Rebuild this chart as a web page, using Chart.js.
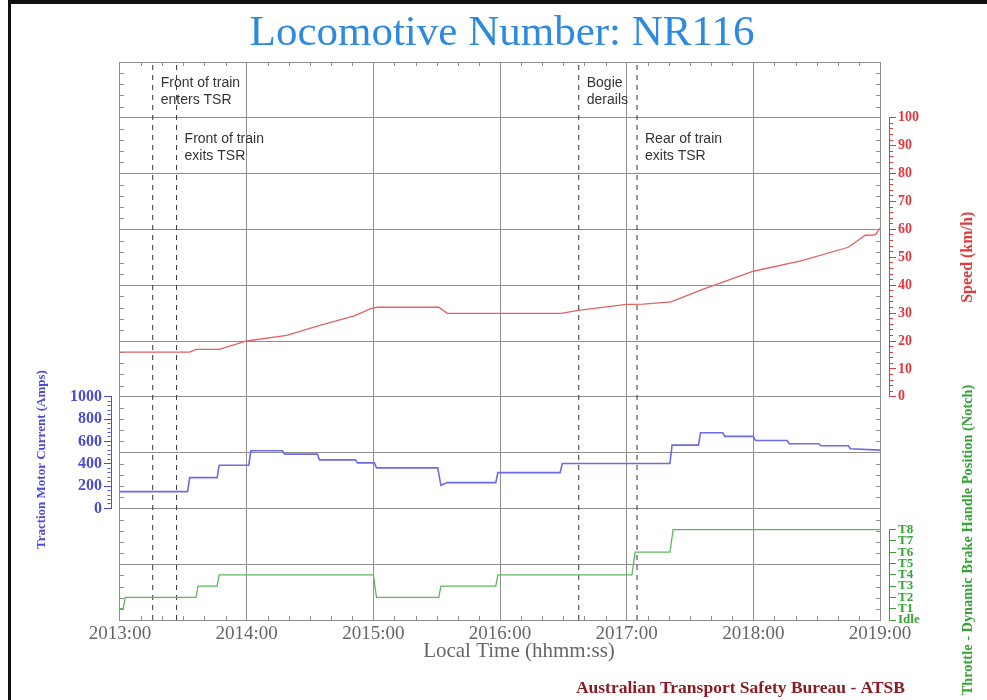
<!DOCTYPE html>
<html>
<head>
<meta charset="utf-8">
<title>Locomotive Number: NR116</title>
<script src="https://cdn.jsdelivr.net/npm/chart.js@4.4.1/dist/chart.umd.min.js"></script>
<style>
    html, body { margin: 0; padding: 0; background: #fff; }
    #wrap { position: relative; width: 987px; height: 700px; }
    #frame { position: absolute; left: 8px; top: 0; right: 0; bottom: 0;
             border-top: 4px solid #111; border-left: 3px solid #111; pointer-events: none; }
</style>
</head>
<body>
<div id="wrap">
    <canvas id="chart" width="987" height="700"></canvas>
    <div id="frame"></div>
</div>
<script>
// time axis is seconds after 20:13:00
const timeTicks = [0, 60, 120, 180, 240, 300, 360];
const timeLabels = ['2013:00', '2014:00', '2015:00', '2016:00', '2017:00', '2018:00', '2019:00'];

const speedTime = [0, 33, 36, 47, 60, 79, 95, 111, 119, 122, 151, 155, 209, 217, 240, 248, 261, 276, 300, 323, 345, 353, 357, 358, 360];
const speedKmh  = [16, 16, 17, 17, 20, 22, 25.7, 29, 31.7, 32.1, 32.1, 29.9, 29.9, 31, 33.1, 33.2, 34, 38.5, 45, 48.8, 53.6, 57.9, 58, 58.2, 60.5];

const currentTime = [0, 32, 33, 46, 47, 61, 62, 77, 78, 93.5, 94.5, 111.5, 112.5, 120.5, 121.5, 150.5, 152, 155, 178, 179, 208.5, 209.5, 260.5, 261.5, 274, 275, 285.5, 286.5, 300, 301, 316, 317, 331, 332, 345, 346, 360];
const currentAmps = [150, 150, 276, 276, 387, 387, 516, 516, 486, 486, 435, 435, 408, 408, 363, 363, 207, 231, 231, 321, 321, 402, 402, 567, 567, 678, 678, 645, 645, 609, 609, 579, 579, 561, 561, 534, 522];

const notchTime = [0, 1.5, 2.5, 36, 37, 46, 47, 120, 121.5, 151, 152, 178, 179, 242.5, 244, 260.5, 262, 360];
const notchPos  = [1, 1, 2, 2, 3, 3, 4, 4, 2, 2, 3, 3, 4, 4, 6, 6, 8, 8];
const notchLabels = ['Idle', 'T1', 'T2', 'T3', 'T4', 'T5', 'T6', 'T7', 'T8'];

const speedLabels = [0, 10, 20, 30, 40, 50, 60, 70, 80, 90, 100];
const currentLabels = [0, 200, 400, 600, 800, 1000];

const eventTime = [15.5, 26.8, 217.3, 244.9];
const eventText = [
    ['Front of train', 'enters TSR'],
    ['Front of train', 'exits TSR'],
    ['Bogie', 'derails'],
    ['Rear of train', 'exits TSR']
];

const chartTitle = 'Locomotive Number: NR116';
const xTitle = 'Local Time (hhmm:ss)';
const currentTitle = 'Traction Motor Current (Amps)';
const speedTitle = 'Speed (km/h)';
const notchTitle = 'Throttle - Dynamic Brake Handle Position (Notch)';
const footerText = 'Australian Transport Safety Bureau - ATSB';

const SERIF = "'Liberation Serif', 'Times New Roman', serif";
const SANS = "'Liberation Sans', Arial, sans-serif";
const GRID = '#8e8e8e';
const BLUE_LINE = '#6c6ce4', BLUE_AXIS = '#4b4bd6';
const RED_LINE = '#e36262', RED_AXIS = '#e0393e';
const GREEN_LINE = '#5cb85c', GREEN_AXIS = '#36a336';

function pts(xs, ys) {
    return xs.map((x, i) => ({ x, y: ys[i] }));
}

function stepTicks(max, step) {
    const out = [];
    for (let v = 0; v <= max + 1e-9; v += step) out.push({ value: Math.round(v * 1000) / 1000 });
    return out;
}

// small inward ticks round the plot frame
const frameTicks = {
    id: 'frameTicks',
    beforeDatasetsDraw(chart) {
        const { ctx, chartArea: a, scales } = chart;
        ctx.save();
        ctx.strokeStyle = GRID;
        ctx.lineWidth = 1;
        ctx.beginPath();
        for (let t = 10; t < 360; t += 10) {
            if (t % 60 === 0) continue;
            const x = Math.round(scales.x.getPixelForValue(t)) + 0.5;
            ctx.moveTo(x, a.bottom); ctx.lineTo(x, a.bottom - 4);
            ctx.moveTo(x, a.top); ctx.lineTo(x, a.top + 4);
        }
        for (let k = 1; k < 50; k++) {
            if (k % 5 === 0) continue;
            const y = Math.round(scales.yg.getPixelForValue(k / 5)) + 0.5;
            ctx.moveTo(a.left, y); ctx.lineTo(a.left + 4, y);
            ctx.moveTo(a.right, y); ctx.lineTo(a.right - 4, y);
        }
        ctx.stroke();
        ctx.restore();
    }
};

// event notes beside the dashed lines
const eventNotes = {
    id: 'eventNotes',
    afterDatasetsDraw(chart) {
        const { ctx, chartArea: a, scales } = chart;
        ctx.save();
        ctx.font = '14px ' + SANS;
        ctx.fillStyle = '#333';
        ctx.textAlign = 'left';
        ctx.textBaseline = 'middle';
        eventText.forEach((lines, i) => {
            const x = scales.x.getPixelForValue(eventTime[i]) + 8;
            const y0 = a.top + 21 + (i % 2) * 56;
            lines.forEach((txt, j) => ctx.fillText(txt, x, y0 + j * 17));
        });
        ctx.restore();
    }
};

// axis titles (right ones read bottom to top) and footer
const axisTitles = {
    id: 'axisTitles',
    afterDraw(chart) {
        const { ctx, chartArea: a, scales } = chart;
        const vtext = (txt, x, y, color, size) => {
            ctx.save();
            ctx.translate(x, y);
            ctx.rotate(-Math.PI / 2);
            ctx.font = 'bold ' + size + 'px ' + SERIF;
            ctx.fillStyle = color;
            ctx.fillText(txt, 0, 0);
            ctx.restore();
        };
        ctx.save();
        ctx.textAlign = 'center';
        ctx.textBaseline = 'middle';
        vtext(currentTitle, 42, (scales.yCur.top + scales.yCur.bottom) / 2 + 7, BLUE_AXIS, 13);
        vtext(speedTitle, 968, (scales.ySpeed.top + scales.ySpeed.bottom) / 2, RED_AXIS, 16);
        vtext(notchTitle, 968, a.bottom - 80, GREEN_AXIS, 14.4);

        ctx.font = '21px ' + SERIF;
        ctx.fillStyle = '#666';
        ctx.fillText(xTitle, (a.left + a.right) / 2 + 19, a.bottom + 31);

        ctx.font = 'bold 17.5px ' + SERIF;
        ctx.fillStyle = '#8b1c24';
        ctx.textAlign = 'right';
        ctx.fillText(footerText, 905, 688);
        ctx.restore();
    }
};

const datasets = [
    { label: 'Speed', data: pts(speedTime, speedKmh), yAxisID: 'ySpeed', borderColor: RED_LINE, borderWidth: 1.3 },
    { label: 'Current', data: pts(currentTime, currentAmps), yAxisID: 'yCur', borderColor: BLUE_LINE, borderWidth: 1.6 },
    { label: 'Throttle', data: pts(notchTime, notchPos), yAxisID: 'yThr', borderColor: GREEN_LINE, borderWidth: 1.3 }
];
eventTime.forEach((t, i) => {
    datasets.push({
        label: 'event' + i, data: [{ x: t, y: 0 }, { x: t, y: 10 }], yAxisID: 'yg',
        borderColor: '#333', borderWidth: 1, borderDash: [5, 5]
    });
});

const hidden = (pos, stack, stackWeight, weight) =>
    ({ type: 'linear', display: false, position: pos, stack, stackWeight, weight });

new Chart(document.getElementById('chart'), {
    type: 'line',
    data: { datasets },
    options: {
        responsive: false,
        animation: false,
        events: [],
        layout: { padding: { left: 17, right: 0, top: 0, bottom: 34 } },
        elements: {
            point: { radius: 0 },
            line: { tension: 0, fill: false }
        },
        datasets: { line: { clip: false } },
        plugins: {
            legend: { display: false },
            tooltip: { enabled: false },
            title: {
                display: true, text: chartTitle, color: '#2e8ae0',
                font: { family: SERIF, size: 43, weight: 'normal' },
                padding: { top: 8, bottom: 2.4 }
            }
        },
        scales: {
            x: {
                type: 'linear', position: 'bottom', min: 0, max: 360,
                afterBuildTicks: s => { s.ticks = timeTicks.map(v => ({ value: v })); },
                ticks: {
                    autoSkip: false, maxRotation: 0, padding: 3, color: '#666',
                    font: { family: SERIF, size: 19 },
                    callback: (v, i) => timeLabels[i]
                },
                grid: { color: GRID, drawTicks: false },
                border: { color: GRID },
                afterFit: s => { s.height = 46; }
            },
            yg: {
                type: 'linear', position: 'left', min: 0, max: 10, weight: 0,
                ticks: { display: false, stepSize: 1 },
                grid: { color: GRID, drawTicks: false },
                border: { display: false },
                afterFit: s => { s.width = 0; }
            },
            lTop: hidden('left', 'left', 6, 3),
            yCur: {
                type: 'linear', position: 'left', stack: 'left', stackWeight: 2, weight: 2,
                min: 0, max: 1000,
                afterBuildTicks: s => { s.ticks = stepTicks(1000, 40); },
                ticks: {
                    autoSkip: false, padding: 2, color: BLUE_AXIS,
                    font: { family: SERIF, size: 16, weight: 'bold' },
                    callback: v => currentLabels.includes(v) ? String(v) : ''
                },
                grid: {
                    drawOnChartArea: false, tickLength: 7, tickColor: BLUE_AXIS, tickWidth: 1,
                    tickBorderDash: c => (c.tick && !currentLabels.includes(c.tick.value)) ? [0, 3.5, 3, 20] : []
                },
                border: { color: BLUE_AXIS, width: 1 },
                afterFit: s => { s.width = 94; }
            },
            lBottom: hidden('left', 'left', 2, 1),
            lGap: { type: 'linear', display: false, position: 'left', weight: 0.5, afterFit: s => { s.width = 9; } },
            rGap: { type: 'linear', display: false, position: 'right', weight: 0, afterFit: s => { s.width = 9; } },
            rTop: hidden('right', 'right', 1, 1),
            ySpeed: {
                type: 'linear', position: 'right', stack: 'right', stackWeight: 5, weight: 2,
                min: 0, max: 100,
                afterBuildTicks: s => { s.ticks = stepTicks(100, 2); },
                ticks: {
                    autoSkip: false, padding: 2, color: RED_AXIS,
                    font: { family: SERIF, size: 14, weight: 'bold' },
                    callback: v => speedLabels.includes(v) ? String(v) : ''
                },
                grid: {
                    drawOnChartArea: false, tickLength: 7, tickColor: RED_AXIS, tickWidth: 1,
                    tickBorderDash: c => (c.tick && !speedLabels.includes(c.tick.value)) ? [3, 20] : []
                },
                border: { color: RED_AXIS, width: 1 },
                afterFit: s => { s.width = 98; }
            },
            rMid: hidden('right', 'right', 2.38, 3),
            yThr: {
                type: 'linear', position: 'right', stack: 'right', stackWeight: 1.62, weight: 4,
                min: 0, max: 8,
                afterBuildTicks: s => { s.ticks = notchLabels.map((_, i) => ({ value: i })); },
                ticks: {
                    autoSkip: false, padding: 2, color: GREEN_AXIS,
                    font: { family: SERIF, size: 13, weight: 'bold' },
                    callback: v => notchLabels[v]
                },
                grid: { drawOnChartArea: false, tickLength: 7, tickColor: GREEN_AXIS, tickWidth: 1 },
                border: { color: GREEN_AXIS, width: 1 },
                afterFit: s => { s.width = 98; }
            }
        }
    },
    plugins: [frameTicks, eventNotes, axisTitles]
});
</script>
</body>
</html>
